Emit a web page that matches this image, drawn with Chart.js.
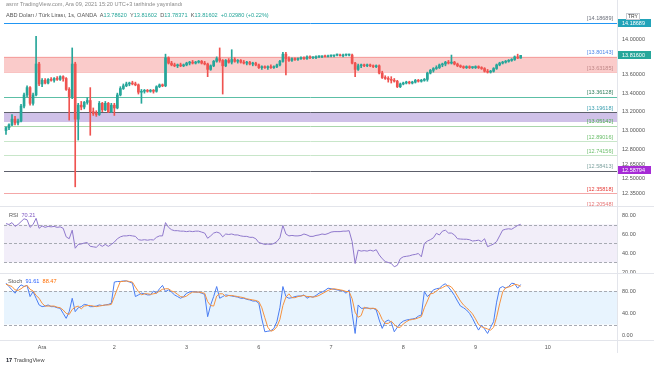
<!DOCTYPE html>
<html>
<head>
<meta charset="utf-8">
<script src="https://cdn.jsdelivr.net/npm/chart.js@4.4.0/dist/chart.umd.min.js"></script>
<style>
  body { margin: 0; background: #fff; width: 654px; height: 366px; overflow: hidden; position: relative; font-family: "Liberation Sans", Arial, sans-serif; }
  canvas { position: absolute; left: 0; }
  .t { position: absolute; white-space: nowrap; font-size: 5.6px; line-height: 7px; }
  .g { color: #26a69a; }
</style>
</head>
<body>
<canvas id="priceChart" width="654" height="208" style="top:0"></canvas>
<canvas id="rsiChart" width="654" height="66" style="top:208px"></canvas>
<canvas id="stochChart" width="654" height="79" style="top:274px"></canvas>

<div class="t" style="left:6px;top:1px;color:#8a8a8a">asmr TradingView.com, Ara 09, 2021 15:20 UTC+3 tarihinde yayınlandı</div>
<div class="t" style="left:6px;top:12px;color:#555">ABD Doları / Türk Lirası, 1s, OANDA &nbsp;A<span class="g">13.78620</span> &nbsp;Y<span class="g">13.81602</span> &nbsp;D<span class="g">13.78371</span> &nbsp;K<span class="g">13.81602</span> &nbsp;<span class="g">+0.02980 (+0.22%)</span></div>
<div class="t" style="left:9px;top:212px;color:#555">RSI &nbsp;<span id="rsiVal" style="color:#7e57c2"></span></div>
<div class="t" style="left:8px;top:278px;color:#555">Stoch &nbsp;<span id="kVal" style="color:#2962ff"></span> &nbsp;<span id="dVal" style="color:#ff6d00"></span></div>
<div class="t" style="left:6px;top:357px;color:#444"><b style="color:#131722">17</b> TradingView</div>

<script>
// hourly bars, index 0 = 30 Kas 12:00
const opens = [
  13.00,13.03,13.06,13.12,13.08,13.10,13.26,13.38,13.46,13.29,13.38,13.72,
  13.50,13.54,13.51,13.55,13.54,13.56,13.55,13.58,13.56,13.44,13.36,13.72,
  13.12,13.27,13.25,13.30,13.32,13.20,13.18,13.17,13.29,13.22,13.29,13.20,
  13.27,13.24,13.38,13.45,13.48,13.50,13.51,13.50,13.49,13.41,13.42,13.43,
  13.42,13.43,13.42,13.47,13.49,13.48,13.79,13.73,13.71,13.70,13.71,13.70,
  13.71,13.73,13.74,13.73,13.74,13.75,13.73,13.72,13.66,13.70,13.75,13.78,
  13.76,13.70,13.76,13.74,13.77,13.75,13.76,13.74,13.73,13.74,13.72,13.73,
  13.71,13.68,13.69,13.68,13.69,13.68,13.69,13.71,13.75,13.83,13.78,13.76,
  13.78,13.77,13.78,13.79,13.78,13.80,13.79,13.79,13.80,13.80,13.81,13.80,
  13.81,13.81,13.82,13.82,13.81,13.82,13.82,13.82,13.73,13.66,13.70,13.71,
  13.70,13.71,13.70,13.69,13.70,13.62,13.57,13.56,13.55,13.54,13.53,13.47,
  13.50,13.51,13.52,13.51,13.52,13.54,13.53,13.54,13.55,13.62,13.65,13.67,
  13.68,13.71,13.72,13.74,13.73,13.74,13.72,13.70,13.69,13.68,13.69,13.68,
  13.68,13.69,13.68,13.67,13.64,13.63,13.64,13.67,13.71,13.73,13.74,13.75,
  13.76,13.77,13.80,13.786
];
const highs = [
  13.04,13.07,13.17,13.15,13.12,13.28,13.40,13.48,13.47,13.40,14.03,13.74,
  13.56,13.56,13.56,13.57,13.57,13.58,13.59,13.59,13.57,13.46,13.90,13.74,
  13.29,13.31,13.31,13.35,13.46,13.24,13.21,13.31,13.30,13.31,13.30,13.29,
  13.29,13.40,13.47,13.50,13.52,13.52,13.53,13.52,13.50,13.44,13.44,13.44,
  13.44,13.44,13.48,13.50,13.50,13.83,13.80,13.75,13.73,13.72,13.73,13.72,
  13.74,13.75,13.76,13.75,13.76,13.76,13.75,13.73,13.71,13.76,13.80,13.90,
  13.77,13.77,13.78,13.88,13.79,13.77,13.77,13.76,13.75,13.75,13.74,13.74,
  13.72,13.70,13.70,13.70,13.71,13.70,13.72,13.76,13.85,13.85,13.80,13.79,
  13.79,13.79,13.80,13.80,13.81,13.81,13.80,13.81,13.81,13.81,13.82,13.82,
  13.82,13.82,13.83,13.83,13.83,13.83,13.83,13.83,13.74,13.72,13.72,13.72,
  13.72,13.72,13.71,13.71,13.71,13.64,13.59,13.58,13.58,13.56,13.54,13.51,
  13.52,13.53,13.53,13.53,13.55,13.55,13.55,13.56,13.63,13.66,13.68,13.70,
  13.72,13.73,13.75,13.76,13.82,13.75,13.73,13.71,13.70,13.70,13.70,13.69,
  13.70,13.70,13.69,13.68,13.66,13.65,13.68,13.72,13.74,13.75,13.76,13.77,
  13.78,13.81,13.83,13.816
];
const lows = [
  12.96,13.01,13.05,13.06,13.06,13.09,13.24,13.36,13.27,13.27,13.37,13.48,
  13.47,13.50,13.50,13.53,13.52,13.54,13.54,13.53,13.43,13.11,13.34,12.42,
  12.90,13.22,13.23,13.28,12.95,13.16,13.15,13.16,13.20,13.21,13.19,13.19,
  13.16,13.23,13.37,13.44,13.47,13.48,13.49,13.48,13.39,13.29,13.40,13.41,
  13.41,13.40,13.41,13.46,13.47,13.47,13.72,13.70,13.69,13.68,13.69,13.69,
  13.70,13.71,13.72,13.72,13.73,13.72,13.71,13.58,13.65,13.69,13.74,13.74,
  13.39,13.69,13.73,13.72,13.74,13.73,13.73,13.72,13.71,13.71,13.70,13.70,
  13.67,13.66,13.67,13.66,13.67,13.67,13.68,13.70,13.74,13.60,13.75,13.75,
  13.76,13.76,13.77,13.77,13.77,13.78,13.78,13.78,13.79,13.79,13.80,13.80,
  13.80,13.80,13.81,13.81,13.80,13.81,13.81,13.72,13.58,13.65,13.68,13.69,
  13.69,13.69,13.68,13.68,13.61,13.56,13.55,13.52,13.51,13.52,13.46,13.46,
  13.49,13.50,13.50,13.50,13.51,13.52,13.52,13.53,13.53,13.61,13.63,13.66,
  13.67,13.69,13.70,13.72,13.72,13.71,13.69,13.68,13.67,13.67,13.67,13.67,
  13.67,13.67,13.66,13.63,13.62,13.62,13.63,13.66,13.70,13.72,13.73,13.74,
  13.75,13.76,13.78,13.784
];
const closes = [
  13.03,13.06,13.12,13.08,13.10,13.26,13.38,13.46,13.29,13.38,13.72,13.50,
  13.54,13.51,13.55,13.54,13.56,13.55,13.58,13.56,13.44,13.36,13.72,13.12,
  13.27,13.25,13.30,13.32,13.20,13.18,13.17,13.29,13.22,13.29,13.20,13.27,
  13.24,13.38,13.45,13.48,13.50,13.51,13.50,13.49,13.41,13.42,13.43,13.42,
  13.43,13.42,13.47,13.49,13.48,13.79,13.73,13.71,13.70,13.71,13.70,13.71,
  13.73,13.74,13.73,13.74,13.75,13.73,13.72,13.66,13.70,13.75,13.78,13.76,
  13.70,13.76,13.74,13.77,13.75,13.76,13.74,13.73,13.74,13.72,13.73,13.71,
  13.68,13.69,13.68,13.69,13.68,13.69,13.71,13.75,13.83,13.78,13.76,13.78,
  13.77,13.78,13.79,13.78,13.80,13.79,13.79,13.80,13.80,13.81,13.80,13.81,
  13.81,13.82,13.82,13.81,13.82,13.82,13.82,13.73,13.66,13.70,13.71,13.70,
  13.71,13.70,13.69,13.70,13.62,13.57,13.56,13.55,13.54,13.53,13.47,13.50,
  13.51,13.52,13.51,13.52,13.54,13.53,13.54,13.55,13.62,13.65,13.67,13.68,
  13.71,13.72,13.74,13.73,13.74,13.72,13.70,13.69,13.68,13.69,13.68,13.68,
  13.69,13.68,13.67,13.64,13.63,13.64,13.67,13.71,13.73,13.74,13.75,13.76,
  13.77,13.80,13.786,13.816
];
const rsi = [
  71,70,72,68,70,73,76,75,67,70,76.5,66,
  68.5,67,68,67.5,68,67,67.5,66,57,55,64,45,
  49,49.5,50.5,51,47,46.5,46,49,47,49,47,49,
  51.5,55,57,58,58,58.5,58,57.5,54,53.5,54,53.5,
  54,53.7,56.5,58,58,72,67,64.5,63.5,63.5,63,63,
  62.5,63,62.5,63,63,62,61,55.5,58,61,62,61,
  57,60,59.5,60,59,59,58,57.5,57.5,56.5,56.5,55,
  51,50,49,49.5,49,50,52,56,69,60,58,58.5,
  58,58,58.5,60,59,57.5,57.5,58.5,59,60,59.5,60.5,
  62,62.5,62.5,62.5,63,63,63.5,52,29,43,42,42.5,
  42,43,42,43.5,38,34,31,30,29,25.5,27,34,
  36,36.5,37,38,38.5,39.5,36,50,52.5,54,56,60.7,
  59,63,64,61,61,59,55,54.7,54.5,54.5,54,52.6,
  53,53.5,52,55,46.7,48,49.5,52,58,64,65,65.5,
  65,67,69,70.21
];
const stochK = [
  94,88,82,76,85,91,88,90,70,79,67,55,
  52,53,55,52,52,50,49,40,31,43,67,43,
  50,52,56,55,52,52,53,55,54,55,56,58,
  96,97,97,98,98,96,94,70,73,76,75,73,
  73,80,76,84,90,79,82,78,73,70,67,70,
  76,78,79,78,78,76,74,34,55,70,88,67,
  70,73,72,71,70,69,67,67,65,64,62,62,
  58,30,7,8,9,13,25,50,88,70,67,68,
  70,71,71,73,67,70,69,72,76,78,81,85,
  84,83,82,81,80,76,82,40,4,55,49,49,
  50,48,49,46,28,13,25,28,24,7,15,22,
  26,28,29,30,31,35,37,79,70,75,82,84,
  85,90,93,87,80,72,62,53,50,46,40,31,
  20,10,19,12,4,15,25,60,85,88,85,88,
  94,93,85,91.61
];
const stochD = [
  92,90,88,82,81,84,88,90,83,80,72,67,
  58,53,53,53,53,51,50,46,40,38,47,51,
  53,48,53,54,54,53,52,53,54,55,55,56,
  70,84,97,97,98,97,96,87,79,73,75,75,
  74,75,76,80,83,84,84,80,78,74,70,69,
  71,75,78,78,78,77,76,61,54,53,71,75,
  75,70,72,72,71,70,69,68,66,65,64,63,
  61,50,32,15,8,10,16,29,54,69,75,68,
  68,70,71,72,70,70,69,70,72,75,78,81,
  83,84,83,82,81,79,79,66,42,33,36,51,
  49,49,49,48,41,29,22,22,26,20,15,15,
  21,25,28,29,30,32,34,50,62,75,76,80,
  84,86,89,90,87,80,71,62,55,50,45,39,
  30,20,16,14,12,10,15,33,57,78,86,87,
  89,92,91,88.47
];

const tickIdx = [12, 36, 60, 84, 108, 132, 156, 180];
const tickLabels = ['Ara', '2', '3', '6', '7', '8', '9', '10'];
const priceTicks = [14.0, 13.6, 13.4, 13.2, 13.0, 12.8, 12.65, 12.5, 12.35];
const rsiTicks = [80, 60, 40, 20];
const stochTicks = [80, 40, 0];

// drawn levels and zones
const levels = [14.18689, 13.80143, 13.63185, 13.36128, 13.19618, 13.05142, 12.89016, 12.74156, 12.58413, 12.35818, 12.20548];
const redZone = [13.80143, 13.63185];
const purpleZone = [13.19618, 13.09];
const markerPrice = 12.58794;
const rsiBand = [30, 70], rsiLines = [70, 50, 30];
const stochBand = [20, 80], stochLines = [80, 20];

const levelLine = ['#2196f3', 'rgba(239,83,80,0.35)', 'rgba(239,83,80,0.35)', '#5cbfa6', '#5d606b', '#a9d6aa', '#c8e6c9', '#c8e6c9', '#5d606b', '#f4a7a7', '#f4a7a7'];
const levelText = ['#6b6f7a', '#4d86e8', '#c08888', '#2e7d5b', '#3a9fb0', '#4caf50', '#6cbf6c', '#6cbf6c', '#7fa3a0', '#e53935', '#e57373'];

const xMin = -0.66, xMax = 203;
const UP = '#26a69a', DOWN = '#ef5350';
const FONT = '"Liberation Sans", Arial, sans-serif';
Chart.defaults.font.family = FONT;

document.getElementById('rsiVal').textContent = rsi[rsi.length - 1].toFixed(2);
document.getElementById('kVal').textContent = stochK[stochK.length - 1].toFixed(2);
document.getElementById('dVal').textContent = stochD[stochD.length - 1].toFixed(2);

const frame = {
  id: 'frame',
  afterDraw(chart) {
    const { ctx, chartArea: a } = chart;
    ctx.save();
    ctx.strokeStyle = '#e3e5eb';
    ctx.lineWidth = 1;
    ctx.beginPath();
    ctx.moveTo(Math.round(a.right) + 0.5, 0);
    ctx.lineTo(Math.round(a.right) + 0.5, chart.height);
    ctx.moveTo(0, Math.round(a.bottom) - 0.5);
    ctx.lineTo(chart.width, Math.round(a.bottom) - 0.5);
    ctx.stroke();
    ctx.restore();
  }
};

function axisBox(ctx, x, y, text, bg, fg) {
  ctx.fillStyle = bg;
  ctx.fillRect(x, Math.round(y) - 4, 33, 8);
  ctx.fillStyle = fg;
  ctx.font = '5.5px ' + FONT;
  ctx.textAlign = 'left';
  ctx.textBaseline = 'middle';
  ctx.fillText(text, x + 4, Math.round(y));
}

const levelsPlugin = {
  id: 'levels',
  beforeDatasetsDraw(chart) {
    const { ctx, chartArea: a, scales: { y } } = chart;
    ctx.save();
    ctx.beginPath();
    ctx.rect(a.left, a.top, a.right - a.left, a.bottom - a.top);
    ctx.clip();
    const zone = (z, c) => {
      const y1 = y.getPixelForValue(z[0]), y2 = y.getPixelForValue(z[1]);
      ctx.fillStyle = c;
      ctx.fillRect(a.left, y1, a.right - a.left, y2 - y1);
    };
    zone(redZone, 'rgba(239,83,80,0.3)');
    zone(purpleZone, 'rgba(149,117,205,0.45)');
    ctx.lineWidth = 1;
    levels.forEach((v, k) => {
      const py = Math.round(y.getPixelForValue(v)) + 0.5;
      ctx.strokeStyle = levelLine[k];
      ctx.beginPath();
      ctx.moveTo(a.left, py);
      ctx.lineTo(a.right, py);
      ctx.stroke();
    });
    ctx.restore();

    ctx.save();
    ctx.font = '5.5px ' + FONT;
    ctx.textAlign = 'right';
    ctx.textBaseline = 'bottom';
    levels.forEach((v, k) => {
      ctx.fillStyle = levelText[k];
      ctx.fillText('[' + v.toFixed(5) + ']', a.right - 4, y.getPixelForValue(v) - 1);
    });
    ctx.restore();
  },
  afterDraw(chart) {
    const { ctx, chartArea: a, scales: { y } } = chart;
    const x = a.right + 1;
    ctx.save();
    axisBox(ctx, x, y.getPixelForValue(levels[0]), levels[0].toFixed(5), '#22a3b9', '#fff');
    axisBox(ctx, x, y.getPixelForValue(closes[closes.length - 1]), closes[closes.length - 1].toFixed(5), UP, '#fff');
    axisBox(ctx, x, y.getPixelForValue(markerPrice), markerPrice.toFixed(5), '#a62bd6', '#fff');
    // currency tag
    ctx.fillStyle = '#fff';
    ctx.strokeStyle = '#c9ccd3';
    ctx.fillRect(626, 13, 14, 7);
    ctx.strokeRect(626.5, 13.5, 13, 6);
    ctx.fillStyle = '#333';
    ctx.font = '5px ' + FONT;
    ctx.textAlign = 'center';
    ctx.textBaseline = 'middle';
    ctx.fillText('TRY', 633, 16.8);
    ctx.restore();
  }
};

function guides(band, lines, fill) {
  return {
    id: 'guides',
    beforeDatasetsDraw(chart) {
      const { ctx, chartArea: a, scales: { y } } = chart;
      ctx.save();
      const y1 = y.getPixelForValue(band[1]), y2 = y.getPixelForValue(band[0]);
      ctx.fillStyle = fill;
      ctx.fillRect(a.left, y1, a.right - a.left, y2 - y1);
      ctx.strokeStyle = '#a7aab2';
      ctx.lineWidth = 1;
      ctx.setLineDash([3, 2]);
      lines.forEach(v => {
        const py = Math.round(y.getPixelForValue(v)) + 0.5;
        ctx.beginPath();
        ctx.moveTo(a.left, py);
        ctx.lineTo(a.right, py);
        ctx.stroke();
      });
      ctx.restore();
    }
  };
}

// keep the plot edges exactly where the layout puts them
const noPad = s => { s.paddingTop = 0; s.paddingBottom = 0; s.paddingLeft = 0; s.paddingRight = 0; };

function rightAxis(min, max, ticks, digits) {
  return {
    position: 'right', min: min, max: max,
    grid: { display: false, drawTicks: false },
    border: { display: false },
    afterBuildTicks: s => { s.ticks = ticks.map(v => ({ value: v })); },
    afterFit: s => { s.width = 37; noPad(s); },
    ticks: { autoSkip: false, padding: 5, color: '#555', font: { size: 5.5 }, callback: v => Number(v).toFixed(digits) }
  };
}

const baseOptions = () => ({
  responsive: false,
  animation: false,
  devicePixelRatio: 1,
  plugins: { legend: { display: false }, tooltip: { enabled: false } }
});

const barColors = closes.map((c, i) => c >= opens[i] ? UP : DOWN);

const priceOpts = baseOptions();
priceOpts.layout = { padding: { left: 4, top: 10, bottom: 1, right: 0 } };
priceOpts.scales = {
  x: { type: 'linear', min: xMin, max: xMax, display: false, offset: false },
  y: Object.assign(rightAxis(12.2186, 14.334, priceTicks, 5), { type: 'logarithmic' })
};
new Chart(document.getElementById('priceChart'), {
  type: 'bar',
  data: {
    datasets: [
      { data: closes.map((c, i) => ({ x: i, y: [opens[i], c] })), backgroundColor: barColors, barThickness: 2, minBarLength: 1, grouped: false, order: 0 },
      { data: closes.map((c, i) => ({ x: i, y: [lows[i], highs[i]] })), backgroundColor: barColors, barThickness: 1, grouped: false, order: 1 }
    ]
  },
  options: priceOpts,
  plugins: [levelsPlugin, frame]
});

const rsiOpts = baseOptions();
rsiOpts.layout = { padding: { left: 4, top: 0, bottom: 0, right: 0 } };
rsiOpts.scales = {
  x: { type: 'linear', min: xMin, max: xMax, display: false },
  y: rightAxis(17.89, 87.37, rsiTicks, 2)
};
new Chart(document.getElementById('rsiChart'), {
  type: 'line',
  data: { datasets: [{ data: rsi.map((v, i) => ({ x: i, y: v })), borderColor: '#8f78cc', borderWidth: 1, pointRadius: 0, tension: 0 }] },
  options: rsiOpts,
  plugins: [guides(rsiBand, rsiLines, 'rgba(126,87,194,0.1)'), frame]
});

const stochOpts = baseOptions();
stochOpts.layout = { padding: { left: 4, top: 0, bottom: 0, right: 0 } };
stochOpts.scales = {
  x: {
    type: 'linear', min: xMin, max: xMax,
    grid: { display: false, drawTicks: false },
    border: { display: false },
    afterBuildTicks: s => { s.ticks = tickIdx.map(v => ({ value: v })); },
    afterFit: s => { s.height = 12; noPad(s); },
    ticks: { autoSkip: false, maxRotation: 0, padding: 3, color: '#555', font: { size: 5.5 }, callback: v => tickLabels[tickIdx.indexOf(v)] }
  },
  y: rightAxis(-9.5, 110.4, stochTicks, 2)
};
new Chart(document.getElementById('stochChart'), {
  type: 'line',
  data: {
    datasets: [
      { data: stochD.map((v, i) => ({ x: i, y: v })), borderColor: '#f5913e', borderWidth: 1, pointRadius: 0, tension: 0 },
      { data: stochK.map((v, i) => ({ x: i, y: v })), borderColor: '#4a7df2', borderWidth: 1, pointRadius: 0, tension: 0 }
    ]
  },
  options: stochOpts,
  plugins: [guides(stochBand, stochLines, 'rgba(33,150,243,0.1)'), frame]
});
</script>
</body>
</html>
